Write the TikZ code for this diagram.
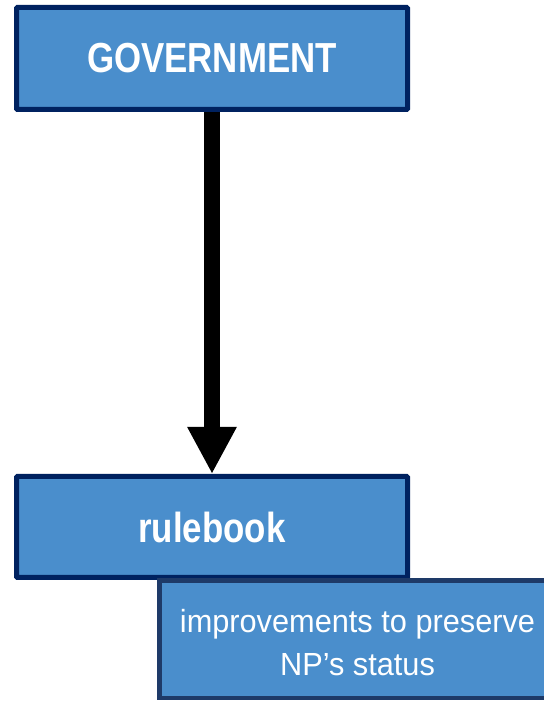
\documentclass[tikz,border=0pt]{standalone}
\usepackage{fontspec}
\usetikzlibrary{arrows.meta}
\newfontfamily\headfont{Liberation Sans}[FakeStretch=0.83]
\newfontfamily\notefont{Liberation Sans}[FakeStretch=0.96]
\definecolor{boxfill}{RGB}{74,142,204}
\definecolor{boxline}{RGB}{0,34,96}
\definecolor{noteline}{RGB}{30,58,104}
\tikzset{
  x=1pt, y=1pt,
  mainbox/.style={draw=boxline, fill=boxfill, line width=5pt, rounded corners=1pt,
    minimum width=391pt, minimum height=102pt, inner sep=0pt,
    text=white, font=\headfont\bfseries\fontsize{42}{48}\selectfont},
  noteedge/.style={draw=noteline, line width=4.5pt},
  notetext/.style={inner sep=0pt, align=center,
    text=white, font=\notefont\fontsize{32}{43}\selectfont},
  bigarrow/.style={line width=16pt, -{Triangle[length=47pt,width=46pt]}}
}
\begin{document}
\begin{tikzpicture}
\useasboundingbox (0,0) rectangle (544,701);
\node[mainbox] (gov) at (212,642.5) {GOVERNMENT};
\node[mainbox, minimum height=101pt] (rule) at (212,174) {rulebook};
% the note panel runs past the right edge of the page: no right side drawn
\fill[boxfill] (159.5,3) rectangle (544,120.5);
\draw[noteedge] (544,120.5) -| (159.5,3) -- (544,3);
\node[notetext] (note) at (357.5,58) {improvements to preserve\\NP’s status};
\draw[bigarrow] (gov.south) -- (rule.north);
\end{tikzpicture}
\end{document}
